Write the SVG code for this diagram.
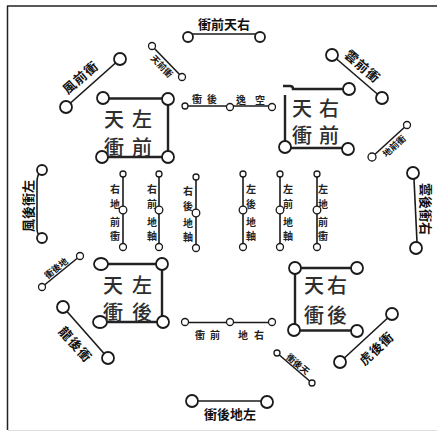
<svg xmlns="http://www.w3.org/2000/svg" width="437" height="432" viewBox="0 0 437 432">
<style>
.ln{stroke:#1a1a1a;stroke-width:1.6;fill:none}
.bx{stroke:#222;stroke-width:2.4;fill:none}
.c{fill:#fff;stroke:#1a1a1a;stroke-width:1.8}
.cs{fill:#fff;stroke:#1a1a1a;stroke-width:1.3}
.big{font-family:"Noto Sans CJK TC","Noto Sans CJK SC",sans-serif;font-size:20px;font-weight:500;fill:#2e2e2e;text-anchor:middle;dominant-baseline:central}
.sm{font-family:"Noto Sans CJK TC","Noto Sans CJK SC",sans-serif;font-size:10px;font-weight:bold;fill:#222;text-anchor:middle;dominant-baseline:central}
.lb{font-family:"Noto Sans CJK TC","Noto Sans CJK SC",sans-serif;font-size:13px;font-weight:bold;fill:#111;text-anchor:middle;dominant-baseline:central}
.ls{font-family:"Noto Sans CJK TC","Noto Sans CJK SC",sans-serif;font-size:9px;font-weight:bold;fill:#111;text-anchor:middle;dominant-baseline:central}
</style>
<rect width="437" height="432" fill="#fff"/>
<g id="frame">
<line x1="7.5" y1="6" x2="7.5" y2="430" stroke="#222" stroke-width="1.5"/>
<line x1="7" y1="6" x2="437" y2="6" stroke="#222" stroke-width="1.5"/>
<line x1="8" y1="430.5" x2="437" y2="430.5" stroke="#ddd" stroke-width="1"/>
</g>
<g id="connectors">
<line class="bx" x1="103" y1="98.5" x2="168" y2="98.5"/>
<line class="bx" x1="168" y1="99" x2="168" y2="157"/>
<line class="bx" x1="102" y1="157" x2="168" y2="157"/>
<path class="bx" d="M283,86 L290,86 Q293,86 293,89 L349,89"/>
<line class="bx" x1="285" y1="95" x2="285" y2="147"/>
<line class="bx" x1="285" y1="148" x2="348" y2="148"/>
<line class="bx" x1="101" y1="264" x2="162" y2="264"/>
<line class="bx" x1="162" y1="264" x2="162" y2="322"/>
<line class="bx" x1="100" y1="322" x2="163" y2="322"/>
<line class="bx" x1="295" y1="268" x2="357" y2="268"/>
<line class="bx" x1="295" y1="268" x2="295" y2="330"/>
<line class="bx" x1="294" y1="330.5" x2="357" y2="330.5"/>
<line class="ln" x1="185" y1="106" x2="272" y2="106"/>
<line class="ln" x1="185" y1="322.5" x2="272" y2="322.5"/>
<line class="ln" x1="123" y1="174" x2="123" y2="247"/>
<line class="ln" x1="159" y1="174" x2="159" y2="247"/>
<line class="ln" x1="196" y1="177" x2="196" y2="248"/>
<line class="ln" x1="243" y1="174" x2="243" y2="247"/>
<line class="ln" x1="280" y1="174" x2="280" y2="247"/>
<line class="ln" x1="317" y1="174" x2="317" y2="247"/>
<line class="ln" x1="192" y1="34" x2="256" y2="34"/>
<line class="ln" x1="120" y1="59" x2="66" y2="107"/>
<line class="ln" x1="152" y1="46" x2="182" y2="77"/>
<line class="ln" x1="332" y1="55" x2="382" y2="98"/>
<line class="ln" x1="407" y1="125" x2="372" y2="157"/>
<line class="ln" x1="414" y1="179" x2="417" y2="242"/>
<path class="ln" d="M40,172 Q37,176 37,182 L37,228 Q37,234 40,236"/>
<line class="ln" x1="80" y1="256" x2="42" y2="287"/>
<line class="ln" x1="63" y1="307" x2="108" y2="358"/>
<line class="ln" x1="277" y1="353" x2="312" y2="383"/>
<line class="ln" x1="392" y1="314" x2="340" y2="362"/>
<line class="ln" x1="198" y1="401" x2="261" y2="401"/>
</g>
<g id="box-tl">
<circle class="c" cx="103" cy="98" r="6"/><circle class="c" cx="168" cy="99" r="6"/>
<circle class="c" cx="168" cy="157" r="6"/><circle class="c" cx="102" cy="157" r="6"/>
<text class="big" x="114" y="118">天</text><text class="big" x="142" y="118">左</text>
<text class="big" x="114" y="146">衝</text><text class="big" x="142" y="146">前</text>
</g>
<g id="box-tr">
<circle class="c" cx="349" cy="89" r="6"/><circle class="c" cx="285" cy="147" r="6"/>
<circle class="c" cx="348" cy="149" r="6"/>
<text class="big" x="302" y="107">天</text><text class="big" x="329" y="107">右</text>
<text class="big" x="302" y="134">衝</text><text class="big" x="329" y="134">前</text>
</g>
<g id="box-bl">
<ellipse class="c" cx="101" cy="264" rx="7" ry="6"/><circle class="c" cx="162" cy="264" r="6"/>
<circle class="c" cx="163" cy="322" r="6"/><ellipse class="c" cx="100" cy="322" rx="7" ry="6"/>
<text class="big" x="113" y="284">天</text><text class="big" x="142" y="284">左</text>
<text class="big" x="113" y="311">衝</text><text class="big" x="142" y="311">後</text>
</g>
<g id="box-br">
<circle class="c" cx="295" cy="268" r="6"/><circle class="c" cx="357" cy="268" r="6"/>
<circle class="c" cx="294" cy="330" r="6"/><circle class="c" cx="357" cy="331" r="6"/>
<text class="big" x="314" y="284">天</text><text class="big" x="337" y="284">右</text>
<text class="big" x="314" y="314">衝</text><text class="big" x="337" y="314">後</text>
</g>
<g id="mid-top">
<circle class="cs" cx="185" cy="106" r="3"/><circle class="cs" cx="230" cy="107" r="3.5"/><circle class="cs" cx="272" cy="107" r="3.5"/>
<text class="sm" x="197" y="98" font-size="11">衝</text><text class="sm" x="212" y="98" font-size="11">後</text>
<text class="sm" x="241" y="99" font-size="11">逸</text><text class="sm" x="260" y="99" font-size="11">空</text>
</g>
<g id="mid-bottom">
<circle class="cs" cx="185" cy="322" r="3.5"/><circle class="cs" cx="230" cy="322" r="3.5"/><circle class="cs" cx="272" cy="322" r="3.5"/>
<text class="sm" x="200" y="334" font-size="11">衝</text><text class="sm" x="215" y="334" font-size="11">前</text>
<text class="sm" x="243" y="334" font-size="11">地</text><text class="sm" x="259" y="334" font-size="11">右</text>
</g>
<g id="col1">
<circle class="cs" cx="123" cy="174" r="3"/><circle class="cs" cx="123" cy="210" r="3.8"/><circle class="cs" cx="123" cy="247" r="3.5"/>
<text class="sm" x="115" y="188">右</text><text class="sm" x="115" y="203">地</text><text class="sm" x="115" y="221">前</text><text class="sm" x="115" y="235">衝</text>
</g>
<g id="col2">
<circle class="cs" cx="159" cy="174" r="3"/><circle class="cs" cx="159" cy="210" r="3.8"/><circle class="cs" cx="159" cy="247" r="3.5"/>
<text class="sm" x="152" y="188">右</text><text class="sm" x="152" y="203">前</text><text class="sm" x="152" y="221">地</text><text class="sm" x="152" y="235">軸</text>
</g>
<g id="col3">
<circle class="cs" cx="196" cy="177" r="3"/><circle class="cs" cx="196" cy="213" r="3.8"/><circle class="cs" cx="196" cy="248" r="3.5"/>
<text class="sm" x="188" y="190">右</text><text class="sm" x="188" y="205">後</text><text class="sm" x="188" y="222">地</text><text class="sm" x="188" y="236">軸</text>
</g>
<g id="col4">
<circle class="cs" cx="243" cy="174" r="3"/><circle class="cs" cx="243" cy="210" r="3.8"/><circle class="cs" cx="243" cy="247" r="3.5"/>
<text class="sm" x="251" y="188">左</text><text class="sm" x="251" y="203">後</text><text class="sm" x="251" y="221">地</text><text class="sm" x="251" y="235">軸</text>
</g>
<g id="col5">
<circle class="cs" cx="280" cy="174" r="3"/><circle class="cs" cx="280" cy="210" r="3.8"/><circle class="cs" cx="280" cy="247" r="3.5"/>
<text class="sm" x="288" y="188">左</text><text class="sm" x="288" y="203">前</text><text class="sm" x="288" y="221">地</text><text class="sm" x="288" y="235">軸</text>
</g>
<g id="col6">
<circle class="cs" cx="317" cy="174" r="3"/><circle class="cs" cx="317" cy="210" r="3.8"/><circle class="cs" cx="317" cy="247" r="3.5"/>
<text class="sm" x="323" y="188">左</text><text class="sm" x="323" y="203">地</text><text class="sm" x="323" y="221">前</text><text class="sm" x="323" y="235">衝</text>
</g>
<g id="outer-top">
<circle class="c" cx="188" cy="37" r="5"/><circle class="c" cx="260" cy="37" r="5"/>
<text class="lb" x="224" y="23" font-size="14">衝前天右</text>
</g>
<g id="outer-tl">
<circle class="c" cx="120" cy="59" r="6"/><circle class="c" cx="66" cy="107" r="6"/>
<text class="lb" transform="translate(80,77) rotate(-41)" font-size="14" letter-spacing="1">風前衝</text>
</g>
<g id="outer-tl-small">
<circle class="cs" cx="152" cy="46" r="3.5"/><circle class="cs" cx="182" cy="77" r="3.5"/>
<text class="ls" transform="translate(162,66) rotate(46)">天前衝</text>
</g>
<g id="outer-tr">
<circle class="c" cx="332" cy="55" r="6"/><circle class="c" cx="382" cy="98" r="6"/>
<text class="lb" transform="translate(363,66) rotate(41)" font-size="14" letter-spacing="1">雲前衝</text>
</g>
<g id="outer-tr-small">
<circle class="cs" cx="407" cy="125" r="3.5"/><circle class="cs" cx="372" cy="157" r="4"/>
<text class="ls" transform="translate(394,146) rotate(-42)">地前衝</text>
</g>
<g id="outer-right">
<circle class="c" cx="413" cy="173" r="6"/><circle class="c" cx="416" cy="248" r="6"/>
<text class="lb" transform="translate(426,209) rotate(90)" font-size="12">雲後衝右</text>
</g>
<g id="outer-left">
<circle class="c" cx="42" cy="170" r="5"/><circle class="c" cx="42" cy="238" r="5"/>
<text class="lb" transform="translate(27,206) rotate(-90)" font-size="12">風後衝左</text>
</g>
<g id="outer-bl-small">
<circle class="cs" cx="80" cy="256" r="3.5"/><circle class="cs" cx="42" cy="287" r="3.5"/>
<text class="ls" transform="translate(56,268) rotate(-39)">衝後地</text>
</g>
<g id="outer-bl">
<circle class="c" cx="63" cy="307" r="6"/><circle class="c" cx="108" cy="358" r="6"/>
<text class="lb" transform="translate(76,344) rotate(48)" font-size="13" letter-spacing="1">龍後衝</text>
</g>
<g id="outer-br-small">
<circle class="cs" cx="277" cy="353" r="3"/><circle class="cs" cx="312" cy="383" r="3"/>
<text class="ls" transform="translate(298,364) rotate(40)">衝後天</text>
</g>
<g id="outer-br">
<circle class="c" cx="392" cy="314" r="6"/><circle class="c" cx="340" cy="362" r="6"/>
<text class="lb" transform="translate(376,348) rotate(-43)" font-size="14" letter-spacing="1">虎後衝</text>
</g>
<g id="outer-bottom">
<circle class="c" cx="192" cy="401" r="6"/><circle class="c" cx="267" cy="402" r="6"/>
<text class="lb" x="230" y="413" font-size="12">衝後地左</text>
</g>
</svg>
